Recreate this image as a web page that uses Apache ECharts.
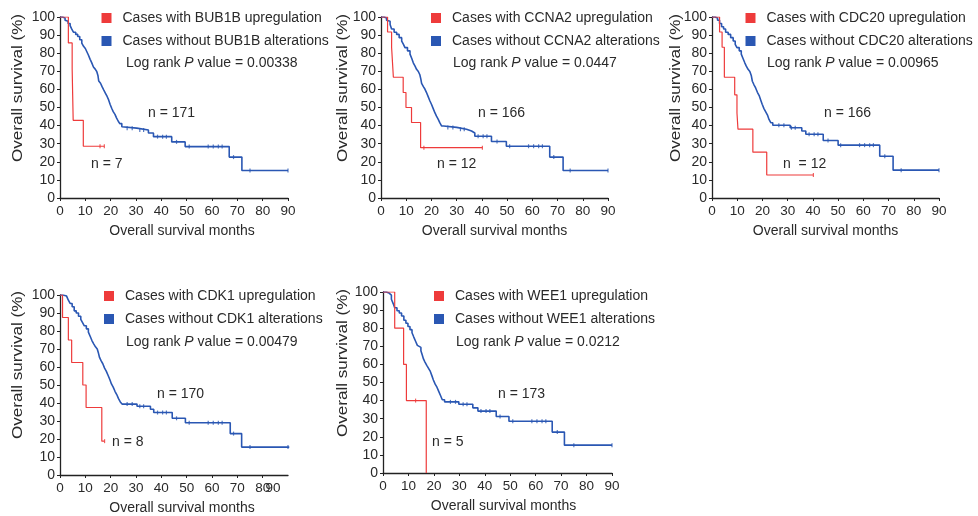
<!DOCTYPE html>
<html>
<head>
<meta charset="utf-8">
<script src="https://cdn.jsdelivr.net/npm/echarts@6/dist/echarts.min.js"></script>
<style>
  html, body { margin: 0; padding: 0; background: #fff; }
  #chart { width: 978px; height: 516px; }
</style>
</head>
<body>
<div id="chart"></div>
<script>
// Kaplan–Meier curves: [months, overall survival %] at each event (step drawn after the point)
const genes = ['BUB1B', 'CCNA2', 'CDC20', 'CDK1', 'WEE1'];
const pValues = ['0.00338', '0.0447', '0.00965', '0.00479', '0.0212'];
const nUp = ['n = 7', 'n = 12', 'n  = 12', 'n = 8', 'n = 5'];
const nWithout = ['n = 171', 'n = 166', 'n = 166', 'n = 170', 'n = 173'];
const yTicks = [0, 10, 20, 30, 40, 50, 60, 70, 80, 90, 100];
const xTicks = [0, 10, 20, 30, 40, 50, 60, 70, 80, 90];
const xTitle = 'Overall survival months';
const yTitle = 'Overall survival (%)';

const upBUB1B = [[0, 100], [3.3, 85.7], [4.8, 71.4], [5.0, 57.1], [5.2, 42.9], [9.2, 28.6], [17.5, 28.6]];
const upCCNA2 = [[0, 100], [2.6, 91.7], [4.2, 83.3], [4.9, 66.7], [8.8, 58.3], [9.9, 50.0], [12.1, 41.7], [15.7, 27.8], [40.2, 27.8]];
const upCDC20 = [[0, 100], [3.0, 91.7], [4.0, 83.3], [4.9, 66.7], [9.0, 57.0], [9.9, 47.0], [10.3, 38.0], [16.2, 25.3], [21.7, 12.7], [40.2, 12.7]];
const upCDK1 = [[0, 100], [1.0, 87.5], [3.3, 75.0], [4.6, 62.5], [9.0, 50.0], [10.3, 37.5], [16.5, 18.8], [17.6, 18.8]];
const upWEE1 = [[0, 100], [4.6, 80.0], [8.1, 60.0], [9.2, 40.0], [17.0, 0], [17.0, 0]];

const withoutBUB1B = [[0, 100], [1.0, 99.4], [2.0, 98.2], [2.6, 97.6], [3.2, 96.4], [4.0, 95.2], [4.6, 93.4], [5.3, 91.6], [6.2, 90.4], [7.0, 89.2], [7.8, 87.4], [8.6, 85.6], [9.3, 83.8], [10.0, 82.6], [10.6, 80.8], [11.2, 79.0], [11.9, 76.6], [12.5, 74.8], [13.2, 72.4], [13.9, 71.2], [14.5, 69.9], [15.0, 67.5], [15.3, 64.6], [16.0, 63.4], [16.6, 61.5], [17.3, 59.6], [17.9, 58.0], [18.6, 56.1], [19.2, 54.2], [19.8, 51.7], [20.4, 49.6], [21.0, 47.7], [21.7, 46.2], [22.3, 44.3], [23.0, 42.4], [23.6, 41.1], [24.4, 39.4], [25.1, 38.6], [30.3, 37.6], [34.9, 35.9], [36.9, 33.9], [44.1, 31.0], [49.4, 28.4], [66.8, 22.6], [71.8, 15.2], [90, 15.2]];
const withoutCCNA2 = [[0, 100], [1.2, 99.4], [2.2, 98.2], [2.9, 97.6], [3.6, 95.8], [4.2, 93.4], [5.2, 91.6], [6.2, 90.4], [7.2, 88.6], [8.2, 86.7], [8.9, 84.9], [9.5, 83.1], [10.5, 81.3], [11.5, 79.5], [12.2, 77.1], [12.8, 74.7], [13.5, 72.9], [14.1, 71.1], [14.8, 69.9], [15.4, 68.1], [15.8, 65.7], [16.1, 63.3], [16.8, 61.5], [17.4, 60.2], [18.0, 58.4], [18.7, 56.0], [19.4, 53.6], [20.0, 51.8], [20.7, 49.4], [21.4, 47.0], [22.0, 45.2], [22.7, 43.4], [23.3, 41.6], [24.0, 39.8], [24.8, 39.0], [30.0, 38.0], [33.9, 37.0], [35.9, 35.9], [37.2, 34.1], [43.8, 31.2], [49.7, 28.6], [66.9, 22.6], [72.2, 15.2], [90, 15.2]];
const withoutCDC20 = [[0, 100], [1.2, 99.4], [2.2, 98.2], [3.0, 96.4], [3.8, 94.6], [4.6, 93.4], [5.4, 91.6], [6.4, 90.4], [7.4, 88.6], [8.4, 86.7], [9.2, 84.9], [9.9, 83.1], [10.8, 81.3], [11.6, 79.5], [12.3, 77.1], [13.0, 74.7], [13.6, 72.9], [14.3, 71.1], [15.0, 69.9], [15.6, 67.5], [16.0, 64.5], [16.6, 62.7], [17.3, 60.8], [18.0, 58.4], [18.7, 56.6], [19.3, 54.2], [19.9, 51.8], [20.6, 49.4], [21.3, 47.6], [22.0, 45.8], [22.6, 43.4], [23.3, 41.6], [24.1, 40.2], [31.0, 38.8], [35.6, 37.0], [37.2, 35.2], [44.1, 31.8], [50.0, 29.2], [66.5, 23.1], [71.8, 15.4], [90, 15.4]];
const withoutCDK1 = [[0, 100], [1.2, 99.4], [2.6, 98.8], [3.3, 97.1], [4.0, 95.3], [4.8, 93.5], [5.6, 91.2], [6.4, 90.0], [7.3, 88.2], [8.2, 86.5], [8.9, 84.7], [9.6, 82.9], [10.4, 81.2], [11.2, 79.4], [11.9, 77.1], [12.6, 74.7], [13.3, 72.9], [14.0, 71.2], [14.7, 70.0], [15.2, 67.6], [15.6, 65.3], [16.2, 63.5], [16.9, 61.8], [17.6, 59.4], [18.3, 57.6], [19.0, 55.3], [19.7, 52.9], [20.3, 50.6], [21.0, 48.8], [21.7, 46.5], [22.4, 44.7], [23.1, 42.4], [23.8, 40.6], [24.5, 39.4], [30.4, 38.2], [35.7, 36.5], [37.0, 34.7], [44.3, 31.5], [49.5, 29.0], [67.2, 23.0], [71.7, 15.5], [90.5, 15.5]];
const withoutWEE1 = [[0, 100], [1.2, 99.4], [2.4, 98.3], [3.3, 96.0], [4.0, 93.6], [4.6, 91.3], [5.5, 89.6], [6.4, 88.4], [7.3, 86.7], [8.2, 84.4], [9.0, 82.7], [9.8, 80.9], [10.6, 79.2], [11.4, 77.5], [12.1, 75.1], [12.8, 72.8], [13.5, 70.5], [14.2, 69.4], [14.9, 67.6], [15.4, 65.3], [15.9, 63.0], [16.5, 61.3], [17.2, 59.5], [17.9, 57.8], [18.6, 56.1], [19.2, 53.8], [19.8, 51.4], [20.5, 49.1], [21.2, 47.4], [21.9, 45.1], [22.6, 42.8], [23.3, 40.5], [24.2, 39.3], [29.8, 38.0], [35.3, 36.0], [37.3, 34.2], [44.5, 31.2], [49.5, 28.6], [66.5, 22.6], [71.3, 15.4], [90, 15.4]];

// censored observations (months)
const censorWithout = [26.5, 28.5, 31.5, 33.0, 38.5, 40.5, 42.0, 46.0, 51.0, 58.5, 60.5, 62.5, 64.0, 68.5, 75.0, 90.0];
const censorUpBUB1B = [15.8, 17.5];
const censorUpCCNA2 = [17.0, 40.2];
const censorUpCDC20 = [40.2];
const censorUpCDK1 = [17.6];
const censorUpWEE1 = [12.8];

const upCurves = [upBUB1B, upCCNA2, upCDC20, upCDK1, upWEE1];
const withoutCurves = [withoutBUB1B, withoutCCNA2, withoutCDC20, withoutCDK1, withoutWEE1];
const upCensors = [censorUpBUB1B, censorUpCCNA2, censorUpCDC20, censorUpCDK1, censorUpWEE1];

// panel boxes and text anchors (pixels)
const grids = [
  { left: 60, top: 17, width: 228, height: 181 },
  { left: 381, top: 17, width: 227, height: 181 },
  { left: 712, top: 17, width: 227, height: 181 },
  { left: 60, top: 295, width: 228, height: 181 },
  { left: 383, top: 292, width: 229, height: 181 }
];
const legendPos = [[96.5, 6], [426, 6], [740.5, 6], [99, 284], [429, 284]];
const logRankPos = [[126, 63], [453, 63], [767, 63], [126, 342], [456, 342]];
const nWithoutPos = [[148, 113], [478, 113], [824, 113], [157, 394], [498, 394]];
const nUpPos = [[91, 164], [437, 164], [783, 164], [112, 442], [432, 442]];
const yTitlePos = [[18, 88], [343, 88], [676, 88], [18, 365], [343, 363]];
const xNameShift = [16, 0, 0, 16, 12];

const RED = '#ee3b3b';
const BLUE = '#2a57b3';
const TXT = '#2a2a2a';
const FONT = '"Liberation Sans", Arial, Helvetica, sans-serif';
const FS = 14;

function survivalAt(curve, t) {
  let s = curve[0][1];
  for (const p of curve) { if (p[0] <= t) s = p[1]; }
  return s;
}

const option = {
  animation: false,
  backgroundColor: '#fff',
  textStyle: { fontFamily: FONT },
  grid: [], xAxis: [], yAxis: [], series: [], legend: [], graphic: []
};

genes.forEach((g, i) => {
  const upName = 'Cases with ' + g + ' upregulation';
  const woName = 'Cases without ' + g + ' alterations';
  option.grid.push(Object.assign({ containLabel: false }, grids[i]));
  option.xAxis.push({
    gridIndex: i, type: 'value', position: 'bottom',
    min: xTicks[0], max: xTicks[xTicks.length - 1], interval: 10,
    name: xTitle, nameLocation: 'middle', nameGap: 26,
    nameTextStyle: { color: TXT, fontSize: FS, fontFamily: FONT, padding: [0, 0, 0, xNameShift[i]] },
    axisLine: { lineStyle: { color: '#222', width: 1.3 } },
    axisTick: { show: true, length: 3, lineStyle: { color: '#222' } },
    splitLine: { show: false },
    axisLabel: {
      color: TXT, fontSize: 13.5, margin: 6, fontFamily: FONT,
      showMinLabel: true, showMaxLabel: i !== 3
    }
  });
  option.yAxis.push({
    gridIndex: i, type: 'value', min: yTicks[0], max: yTicks[yTicks.length - 1], interval: 10,
    axisLine: { show: true, lineStyle: { color: '#222', width: 1.3 } },
    axisTick: { show: true, length: 3, lineStyle: { color: '#222' } },
    splitLine: { show: false },
    axisLabel: { color: TXT, fontSize: FS, margin: 5, fontFamily: FONT, showMinLabel: true, showMaxLabel: true }
  });
  option.series.push({
    name: upName, type: 'line', step: 'end', xAxisIndex: i, yAxisIndex: i,
    data: upCurves[i], showSymbol: false, color: RED,
    lineStyle: { color: RED, width: 1.2 }, z: 3
  });
  option.series.push({
    name: woName, type: 'line', step: 'end', xAxisIndex: i, yAxisIndex: i,
    data: withoutCurves[i], showSymbol: false, color: BLUE,
    lineStyle: { color: BLUE, width: 1.6 }, z: 2
  });
  option.series.push({
    type: 'scatter', xAxisIndex: i, yAxisIndex: i, silent: true,
    symbol: 'rect', symbolSize: [1.2, 4], itemStyle: { color: BLUE },
    data: censorWithout.map(t => [t, survivalAt(withoutCurves[i], t)]), z: 2
  });
  option.series.push({
    type: 'scatter', xAxisIndex: i, yAxisIndex: i, silent: true,
    symbol: 'rect', symbolSize: [1.2, 4], itemStyle: { color: RED },
    data: upCensors[i].map(t => [t, survivalAt(upCurves[i], t)]), z: 3
  });
  option.legend.push({
    data: [upName, woName], orient: 'vertical',
    left: legendPos[i][0], top: legendPos[i][1],
    icon: 'rect', itemWidth: 10, itemHeight: 10, itemGap: 9,
    selectedMode: false,
    textStyle: { color: TXT, fontSize: FS, fontFamily: FONT, padding: [0, 0, 0, 6] }
  });
  // y-axis title, drawn a little stretched along its length
  option.graphic.push({
    type: 'text', x: yTitlePos[i][0], y: yTitlePos[i][1], rotation: Math.PI / 2, scaleX: 1.22,
    style: { text: yTitle, fontSize: FS, fill: TXT, fontFamily: FONT, align: 'center', verticalAlign: 'middle' }
  });
  option.graphic.push({
    type: 'text', left: logRankPos[i][0], top: logRankPos[i][1] - 7,
    style: {
      text: '{a|Log rank }{i|P}{a| value = ' + pValues[i] + '}',
      rich: {
        a: { fontSize: FS, fill: TXT, fontFamily: FONT },
        i: { fontSize: FS, fill: TXT, fontFamily: FONT, fontStyle: 'italic' }
      }
    }
  });
  option.graphic.push({
    type: 'text', left: nWithoutPos[i][0], top: nWithoutPos[i][1] - 7,
    style: { text: nWithout[i], fontSize: FS, fill: TXT, fontFamily: FONT }
  });
  option.graphic.push({
    type: 'text', left: nUpPos[i][0], top: nUpPos[i][1] - 7,
    style: { text: nUp[i], fontSize: FS, fill: TXT, fontFamily: FONT }
  });
});

// CDK1 panel: its "90" tick label is set to the left, over the "80"
option.xAxis.push({
  gridIndex: 3, type: 'value', position: 'bottom', offset: 0,
  min: xTicks[0], max: xTicks[xTicks.length - 1], interval: 10,
  axisLine: { show: false }, axisTick: { show: false }, splitLine: { show: false },
  axisLabel: {
    color: TXT, fontSize: 13.5, margin: 6, fontFamily: FONT,
    showMinLabel: false, showMaxLabel: true,
    formatter: (v) => v === 90 ? '90' + '\u00a0'.repeat(8) : ''
  }
});

const chart = echarts.init(document.getElementById('chart'), null, { renderer: 'canvas' });
chart.setOption(option);
</script>
</body>
</html>
